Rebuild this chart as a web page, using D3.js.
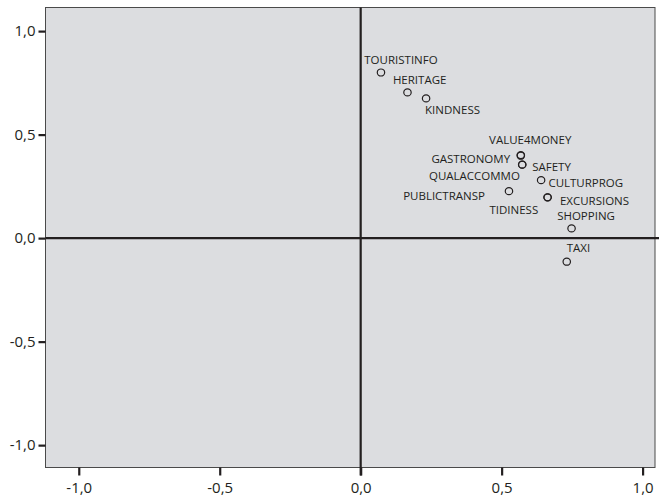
<!DOCTYPE html>
<html>
<head>
<meta charset="utf-8">
<script src="https://cdn.jsdelivr.net/npm/d3@7"></script>
<style>
  html, body { margin: 0; padding: 0; background: #ffffff; }
  svg { display: block; }
</style>
</head>
<body>
<svg id="chart" width="659" height="499"></svg>
<script>
// ---- data ----
const names = ["TOURISTINFO","HERITAGE","KINDNESS","VALUE4MONEY","GASTRONOMY","SAFETY","QUALACCOMMO","CULTURPROG","PUBLICTRANSP","EXCURSIONS","TIDINESS","SHOPPING","TAXI"];
const dim1 = [0.072, 0.166, 0.232, 0.568, 0.568, 0.573, 0.573, 0.640, 0.526, 0.663, 0.663, 0.748, 0.731];
const dim2 = [0.800, 0.704, 0.675, 0.401, 0.398, 0.355, 0.355, 0.280, 0.227, 0.197, 0.197, 0.047, -0.114];
const xTicks = [-1.0, -0.5, 0.0, 0.5, 1.0];
const yTicks = [-1.0, -0.5, 0.0, 0.5, 1.0];
const xDomain = [-1.118, 1.044];
const yDomain = [-1.108, 1.114];

// label placement (pixel offsets from the marker), kept apart from the data
const labelDx = [-16.7, -14.6, -1, -31.7, -10.7, 10, -2.3, 7.3, -24, 12.3, -9.4, 14.5, 0];
const labelDy = [-8.3, -8, 15.7, -10.7, 7.7, 6.2, 15.5, 6.7, 9, 7.7, 17, -8.3, -10];
const labelAnchor = ["start","start","start","start","end","start","end","start","end","start","end","middle","start"];

const fmt = v => d3.format(".1f")(v).replace("−", "-").replace(".", ",");

const svg = d3.select("#chart");
const pLeft = 45.5, pRight = 655, pTop = 7.5, pBottom = 467.5;
const x = d3.scaleLinear().domain(xDomain).range([pLeft, pRight]);
const y = d3.scaleLinear().domain(yDomain).range([pBottom, pTop]);
const font = "'Open Sans', 'Noto Sans', sans-serif";
const ink = "#231f20";

// plot background + frame
svg.append("rect")
  .attr("x", pLeft).attr("y", pTop)
  .attr("width", pRight - pLeft).attr("height", pBottom - pTop)
  .attr("fill", "#dcdde0")
  .attr("stroke", "#4a4a4a").attr("stroke-width", 1);

// axes
const yAxis = d3.axisLeft(y).tickValues(yTicks).tickSize(7).tickPadding(3).tickFormat(fmt);
const gy = svg.append("g").attr("transform", `translate(${pLeft},0)`).call(yAxis);
gy.select(".domain").remove();
gy.selectAll(".tick line").attr("stroke", ink).attr("stroke-width", 2.2);
gy.selectAll(".tick text").attr("font-family", font).attr("font-size", 15).attr("fill", ink);

const xAxis = d3.axisBottom(x).tickValues(xTicks).tickSize(8).tickPadding(7).tickFormat(fmt);
const gx = svg.append("g").attr("transform", `translate(0,${pBottom})`).call(xAxis);
gx.select(".domain").remove();
gx.selectAll(".tick line").attr("stroke", ink).attr("stroke-width", 2.2);
gx.selectAll(".tick text").attr("font-family", font).attr("font-size", 15).attr("fill", ink);

// zero reference lines
svg.append("line")
  .attr("x1", pLeft).attr("x2", 659)
  .attr("y1", y(0)).attr("y2", y(0))
  .attr("stroke", ink).attr("stroke-width", 2.2);
svg.append("line")
  .attr("x1", x(0)).attr("x2", x(0))
  .attr("y1", pTop).attr("y2", pBottom + 8)
  .attr("stroke", ink).attr("stroke-width", 2.2);

// points
const pts = names.map((n, i) => ({ name: n, a: dim1[i], b: dim2[i], dx: labelDx[i], dy: labelDy[i], anchor: labelAnchor[i] }));

svg.append("g").selectAll("ellipse").data(pts).join("ellipse")
  .attr("cx", d => x(d.a)).attr("cy", d => y(d.b))
  .attr("rx", 3.7).attr("ry", 3.5)
  .attr("fill", "none").attr("stroke", ink).attr("stroke-width", 1.2);

svg.append("g").selectAll("text").data(pts).join("text")
  .attr("x", d => x(d.a) + d.dx).attr("y", d => y(d.b) + d.dy)
  .attr("text-anchor", d => d.anchor)
  .attr("font-family", font).attr("font-size", 11.5)
  .attr("fill", ink)
  .text(d => d.name);
</script>
</body>
</html>
